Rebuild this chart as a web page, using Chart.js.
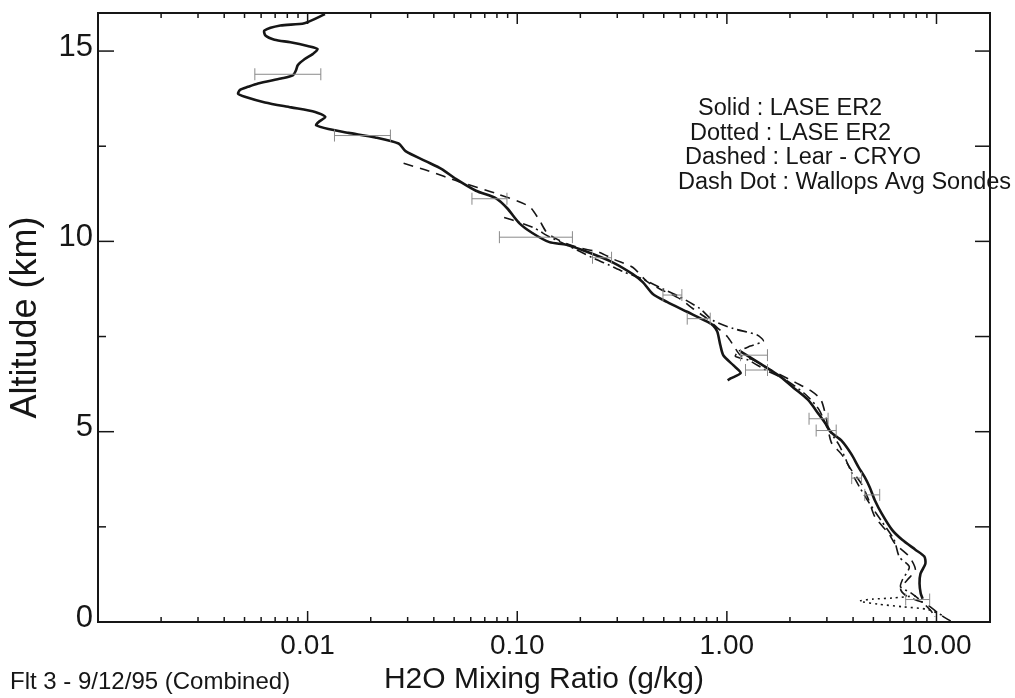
<!DOCTYPE html>
<html>
<head>
<meta charset="utf-8">
<title>H2O Mixing Ratio profiles</title>
<script src="https://cdn.jsdelivr.net/npm/chart.js@4/dist/chart.umd.min.js"></script>
<style>
  html, body { margin: 0; padding: 0; background: #fff; }
  #wrap { width: 1015px; height: 698px; }
</style>
</head>
<body>
<div id="wrap"><canvas id="profile" width="1015" height="698"></canvas></div>
<script>
// --- profiles: altitude (km) and H2O mixing ratio (g/kg) ---
const laseUpperAlt = [15.97, 15.73, 15.67, 15.54, 15.41, 15.30, 15.23, 15.13, 15.05, 14.92, 14.79, 14.63, 14.49, 14.36,
  14.28, 14.15, 14.06, 13.98, 13.88, 13.80, 13.65, 13.52, 13.40, 13.27, 13.13, 13.05, 12.95, 12.85, 12.73, 12.57,
  12.37, 12.11, 11.90, 11.64, 11.33, 11.13, 10.87, 10.48, 10.22, 9.98, 9.91, 9.70, 9.45, 9.14, 8.93, 8.62, 8.41,
  8.15, 7.89, 7.79, 7.63, 7.27, 7.00, 6.74, 6.54, 6.40, 6.35];
const laseUpperH2O = [0.0121, 0.00965, 0.00741, 0.00622, 0.00629, 0.00695, 0.00828, 0.0100, 0.01116, 0.01057, 0.00969,
  0.00898, 0.00879, 0.00850, 0.00746, 0.00580, 0.00519, 0.00476, 0.00466, 0.00502, 0.00626, 0.00834, 0.01086, 0.01214,
  0.01125, 0.01099, 0.01256, 0.01567, 0.02104, 0.02716, 0.02931, 0.03655, 0.04365, 0.05093, 0.06353, 0.07925, 0.08954,
  0.1022, 0.1180, 0.1424, 0.1718, 0.2213, 0.2851, 0.3556, 0.3971, 0.4434, 0.5178, 0.6457, 0.8054, 0.8602, 0.900,
  0.931, 0.963, 1.076, 1.164, 1.042, 1.009];

const laseLowerAlt = [7.11, 6.78, 6.44, 6.15, 5.84, 5.45, 5.19, 4.98, 4.77, 4.41, 4.07, 3.81, 3.54, 3.20, 2.84, 2.42,
  2.16, 1.90, 1.72, 1.53, 1.27, 1.01, 0.75, 0.61];
const laseLowerH2O = [1.161, 1.449, 1.806, 2.084, 2.434, 2.751, 2.974, 3.145, 3.514, 3.926, 4.246, 4.54, 4.801, 5.078,
  5.49, 6.14, 6.86, 7.93, 8.75, 8.85, 8.39, 8.30, 8.41, 8.59];

const laseDotAlt = [0.69, 0.63, 0.60, 0.55, 0.47, 0.40, 0.33, 0.17];
const laseDotH2O = [7.96, 6.18, 4.96, 4.30, 5.25, 6.91, 9.09, 10.73];

const cryoAlt = [12.05, 11.85, 11.57, 11.26, 10.92, 10.56, 10.22, 9.96, 9.83, 9.71, 9.52, 9.32, 8.95, 8.75, 8.49, 8.23,
  7.97, 7.71, 7.50, 7.27, 7.01, 6.88, 6.67, 6.49, 6.29, 6.08, 5.84, 5.37, 4.72, 4.41, 3.99, 3.62, 3.20, 2.76, 2.31,
  2.05, 1.72, 1.37, 1.11, 0.87, 0.66, 0.48, 0.20, 0.02];
const cryoH2O = [0.0287, 0.0378, 0.0527, 0.0791, 0.1138, 0.1274, 0.1391, 0.168, 0.198, 0.247, 0.2911, 0.3553, 0.415,
  0.479, 0.5975, 0.690, 0.805, 0.910, 1.004, 1.074, 1.161, 1.339, 1.564, 1.806, 2.129, 2.513, 2.809, 2.974, 3.148,
  3.518, 3.93, 4.396, 4.753, 5.089, 5.94, 6.35, 7.41, 7.93, 7.27, 6.74, 7.29, 8.88, 10.37, 11.72];

const sondeAlt = [10.63, 10.50, 10.35, 10.12, 9.91, 9.57, 9.37, 9.19, 9.01, 8.75, 8.54, 8.23, 7.92, 7.71, 7.54, 7.38,
  7.25, 7.11, 6.98, 6.88, 6.62, 6.36, 5.97, 5.58, 5.11, 4.64, 3.93, 3.54, 3.10, 2.63, 2.16, 1.71, 1.45, 1.11, 0.92,
  0.77, 0.56, 0.30, 0.14];
const sondeH2O = [0.0866, 0.1022, 0.1206, 0.1422, 0.1718, 0.2287, 0.276, 0.3254, 0.397, 0.495, 0.5975, 0.745, 0.860,
  1.073, 1.396, 1.493, 1.294, 1.136, 1.099, 1.268, 1.530, 1.908, 2.382, 2.751, 3.01, 3.438, 3.934, 4.30, 4.81, 5.50,
  6.28, 6.65, 7.42, 6.88, 6.74, 7.52, 8.41, 9.39, 9.83];

// LASE error bars: altitude (km), low and high mixing ratio (g/kg)
const errAlt = [14.39, 12.78, 11.12, 10.11, 9.57, 8.59, 7.97, 7.01, 6.62, 5.34, 5.03, 3.78, 3.34, 0.59];
const errLow = [0.0056, 0.01343, 0.0608, 0.0822, 0.2286, 0.4955, 0.647, 1.161, 1.227, 2.466, 2.667, 3.94, 4.55, 7.13];
const errHigh = [0.01156, 0.02483, 0.0893, 0.1833, 0.2818, 0.610, 0.833, 1.562, 1.563, 3.04, 3.323, 4.39, 5.36, 9.28];

const xTickValues = [0.01, 0.1, 1, 10];
const yTickValues = [0, 5, 10, 15];
const legendLines = ['Solid : LASE ER2', 'Dotted : LASE ER2', 'Dashed : Lear - CRYO', 'Dash Dot : Wallops Avg Sondes'];
const flightNote = 'Flt 3 - 9/12/95 (Combined)';

const INK = '#161616';
const FONT = '"Liberation Sans", Arial, Helvetica, sans-serif';

const pairs = (xs, ys) => xs.map((v, i) => ({ x: v, y: ys[i] }));

function profile(label, xs, ys, width, dash) {
    return {
        label: label,
        data: pairs(xs, ys),
        borderColor: INK,
        borderWidth: width,
        borderDash: dash,
        pointRadius: 0,
        tension: 0.25,
        fill: false
    };
}

// frame with inward tick marks, error bars and the text block
const plotDecor = {
    id: 'plotDecor',
    afterDatasetsDraw(chart) {
        const { ctx, chartArea: a, scales: { x, y } } = chart;
        const seg = (x1, y1, x2, y2) => { ctx.beginPath(); ctx.moveTo(x1, y1); ctx.lineTo(x2, y2); ctx.stroke(); };

        ctx.save();
        // error bars
        ctx.strokeStyle = '#8a8a8a';
        ctx.lineWidth = 1;
        errAlt.forEach((alt, i) => {
            const py = y.getPixelForValue(alt);
            const x1 = x.getPixelForValue(errLow[i]);
            const x2 = x.getPixelForValue(errHigh[i]);
            seg(x1, py, x2, py);
            seg(x1, py - 6, x1, py + 6);
            seg(x2, py - 6, x2, py + 6);
        });

        // box
        ctx.strokeStyle = INK;
        ctx.lineWidth = 2;
        ctx.strokeRect(a.left, a.top, a.right - a.left, a.bottom - a.top);

        // log ticks top and bottom
        ctx.lineWidth = 1.5;
        for (let d = -3; d <= 1; d++) {
            for (let m = 1; m <= 9; m++) {
                const v = m * Math.pow(10, d);
                if (v <= x.min || v >= x.max) continue;
                const px = x.getPixelForValue(v);
                const len = m === 1 ? 11 : 5;
                seg(px, a.bottom, px, a.bottom - len);
                seg(px, a.top, px, a.top + len);
            }
        }
        // altitude ticks left and right
        for (let v = 2.5; v < y.max; v += 2.5) {
            const py = y.getPixelForValue(v);
            seg(a.left, py, a.left + (v % 5 === 0 ? 16 : 8), py);
            seg(a.right, py, a.right - 15, py);
        }

        // text block
        ctx.fillStyle = INK;
        ctx.textAlign = 'left';
        ctx.textBaseline = 'alphabetic';
        ctx.font = '23.5px ' + FONT;
        const lx = [698, 690, 685, 678];
        legendLines.forEach((t, i) => ctx.fillText(t, lx[i], 115 + i * 24.5));

        ctx.font = '24px ' + FONT;
        ctx.fillText(flightNote, 10, 689);
        ctx.restore();
    }
};

new Chart(document.getElementById('profile'), {
    type: 'line',
    data: {
        datasets: [
            profile('LASE ER2', laseUpperH2O, laseUpperAlt, 2.6, []),
            profile('LASE ER2 (lower)', laseLowerH2O, laseLowerAlt, 2.6, []),
            profile('LASE ER2 dotted', laseDotH2O, laseDotAlt, 1.6, [2, 4]),
            profile('Lear - CRYO', cryoH2O, cryoAlt, 1.6, [10, 7]),
            profile('Wallops Avg Sondes', sondeH2O, sondeAlt, 1.6, [10, 4, 2, 4])
        ]
    },
    options: {
        responsive: false,
        animation: false,
        devicePixelRatio: 1,
        layout: { padding: { top: 13, right: 25, left: 0, bottom: 0 } },
        plugins: { legend: { display: false }, tooltip: { enabled: false } },
        scales: {
            x: {
                type: 'logarithmic',
                min: 0.001,
                max: 18,
                afterBuildTicks: s => { s.ticks = xTickValues.map(v => ({ value: v })); },
                afterFit: s => { s.height = 76; s.paddingLeft = 0; s.paddingRight = 0; },
                grid: { display: false, drawTicks: false },
                border: { display: false },
                ticks: {
                    autoSkip: false, maxRotation: 0, padding: 7, color: INK,
                    font: { family: FONT, size: 28 },
                    callback: v => Number(v).toFixed(2)
                },
                title: {
                    display: true, text: 'H2O Mixing Ratio (g/kg)', color: INK,
                    font: { family: FONT, size: 30 }, padding: { top: 0, bottom: 0 }
                }
            },
            y: {
                type: 'linear',
                min: 0,
                max: 16,
                afterBuildTicks: s => { s.ticks = yTickValues.map(v => ({ value: v })); },
                afterFit: s => { s.width = 98; s.paddingTop = 0; s.paddingBottom = 0; },
                grid: { display: false, drawTicks: false },
                border: { display: false },
                ticks: { padding: 5, labelOffset: -4, color: INK, font: { family: FONT, size: 31 } },
                title: {
                    display: true, text: 'Altitude (km)', color: INK,
                    font: { family: FONT, size: 36 }, padding: { top: 4, bottom: 0 }
                }
            }
        }
    },
    plugins: [plotDecor]
});
</script>
</body>
</html>
